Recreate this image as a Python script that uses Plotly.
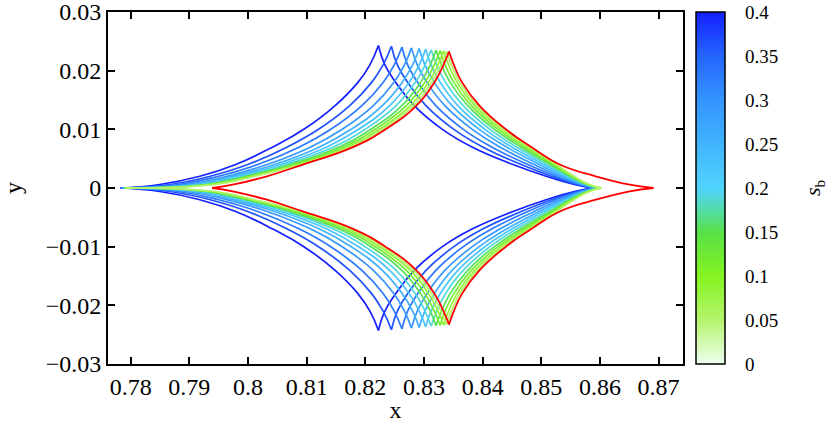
import plotly.graph_objects as go
from plotly.colors import sample_colorscale

# ---------------- data ----------------
S_B = [0.40, 0.365, 0.33, 0.295, 0.26, 0.225, 0.19, 0.155, 0.12, 0.085, 0.05]

# y levels at which the arcs' x positions were read
Y_LEVELS = [0.0006, 0.002, 0.004, 0.007, 0.010, 0.014, 0.018, 0.021]

LEFT_CUSP_X = [0.77824, 0.77835, 0.77845, 0.77855, 0.77865, 0.77875,
               0.77885, 0.77895, 0.77905, 0.77915, 0.77925]
TOP_X = [0.82224, 0.82445, 0.82625, 0.82787, 0.82918, 0.83029,
         0.83123, 0.83205, 0.83276, 0.83336, 0.83384]
TOP_Y = [0.02428, 0.02416, 0.02403, 0.02389, 0.02377, 0.02367,
         0.02358, 0.02350, 0.02343, 0.02338, 0.02333]
RIGHT_CUSP_X = [0.85884, 0.85911, 0.85934, 0.85955, 0.85972, 0.85985,
                0.85997, 0.86008, 0.86016, 0.86024, 0.86030]

LEFT_ARC_X = [
    [0.78495, 0.79178, 0.79790, 0.80423, 0.80952, 0.81481, 0.81874, 0.82078],
    [0.78670, 0.79353, 0.79995, 0.80671, 0.81202, 0.81730, 0.82108, 0.82304],
    [0.78816, 0.79498, 0.80167, 0.80877, 0.81411, 0.81938, 0.82304, 0.82492],
    [0.78953, 0.79635, 0.80327, 0.81070, 0.81606, 0.82132, 0.82486, 0.82668],
    [0.79060, 0.79742, 0.80453, 0.81221, 0.81759, 0.82285, 0.82629, 0.82806],
    [0.79148, 0.79830, 0.80555, 0.81345, 0.81884, 0.82410, 0.82746, 0.82919],
    [0.79226, 0.79910, 0.80647, 0.81455, 0.81995, 0.82521, 0.82851, 0.83019],
    [0.79294, 0.79978, 0.80727, 0.81551, 0.82093, 0.82618, 0.82942, 0.83107],
    [0.79348, 0.80028, 0.80789, 0.81627, 0.82169, 0.82694, 0.83013, 0.83176],
    [0.79396, 0.80076, 0.80846, 0.81696, 0.82239, 0.82763, 0.83078, 0.83239],
    [0.79435, 0.80115, 0.80892, 0.81751, 0.82294, 0.82818, 0.83130, 0.83289],
]
RIGHT_ARC_X = [
    [0.85560, 0.85082, 0.84519, 0.83819, 0.83314, 0.82838, 0.82520, 0.82334],
    [0.85609, 0.85171, 0.84658, 0.84001, 0.83509, 0.83038, 0.82723, 0.82546],
    [0.85649, 0.85245, 0.84772, 0.84152, 0.83671, 0.83205, 0.82893, 0.82722],
    [0.85687, 0.85315, 0.84880, 0.84294, 0.83823, 0.83360, 0.83051, 0.82886],
    [0.85716, 0.85369, 0.84964, 0.84405, 0.83942, 0.83482, 0.83175, 0.83016],
    [0.85740, 0.85414, 0.85033, 0.84496, 0.84039, 0.83582, 0.83277, 0.83121],
    [0.85762, 0.85453, 0.85095, 0.84577, 0.84126, 0.83671, 0.83368, 0.83215],
    [0.85781, 0.85488, 0.85149, 0.84647, 0.84201, 0.83749, 0.83447, 0.83298],
    [0.85796, 0.85516, 0.85191, 0.84703, 0.84261, 0.83810, 0.83509, 0.83362],
    [0.85809, 0.85540, 0.85230, 0.84753, 0.84315, 0.83866, 0.83565, 0.83421],
    [0.85820, 0.85560, 0.85260, 0.84794, 0.84358, 0.83910, 0.83610, 0.83468],
]

# reference (red) curve
RED_LEFT_CUSP_X = 0.79387
RED_TOP_X = 0.83427
RED_TOP_Y = 0.02326
RED_RIGHT_CUSP_X = 0.86913
RED_LEFT_ARC_X = [0.79760, 0.80321, 0.80935, 0.81799, 0.82343, 0.82867, 0.83176, 0.83333]
RED_RIGHT_ARC_X = [0.86485, 0.85928, 0.85314, 0.84829, 0.84396, 0.83949, 0.83650, 0.83509]

X_TICKS = [0.78, 0.79, 0.80, 0.81, 0.82, 0.83, 0.84, 0.85, 0.86, 0.87]
X_TICK_TEXT = ["0.78", "0.79", "0.8", "0.81", "0.82", "0.83", "0.84", "0.85", "0.86", "0.87"]
Y_TICKS = [-0.03, -0.02, -0.01, 0.0, 0.01, 0.02, 0.03]
Y_TICK_TEXT = ["\u22120.03", "\u22120.02", "\u22120.01", "0", "0.01", "0.02", "0.03"]
CB_TICKS = [0, 0.05, 0.1, 0.15, 0.2, 0.25, 0.3, 0.35, 0.4]
CB_TICK_TEXT = ["0", "0.05", "0.1", "0.15", "0.2", "0.25", "0.3", "0.35", "0.4"]

COLORSCALE = [
    [0.0, "#eefff0"],
    [0.125, "#b4f46c"],
    [0.25, "#84f420"],
    [0.375, "#58e048"],
    [0.4375, "#52dca8"],
    [0.5, "#50d4ff"],
    [0.625, "#40b4ff"],
    [0.75, "#3494ff"],
    [0.875, "#2466ff"],
    [1.0, "#1420ff"],
]
S_MIN, S_MAX = 0.0, 0.4

FONT = "Liberation Serif"

# layout geometry (pixels)
W, H = 831, 423
ML, MR, MT, MB = 108, 148, 12, 59
PW = W - ML - MR
CB_LEFT_PX = 696
CB_THICK = 29


def build_path(lcx, tx, ty, rcx, lx, rx):
    ys = list(Y_LEVELS)
    xs_all, ys_all = [], []
    xs_all += [lcx] + list(lx) + [tx] + [None]
    ys_all += [0.0] + ys + [ty] + [None]
    xs_all += [tx] + list(rx)[::-1] + [rcx] + [None]
    ys_all += [ty] + ys[::-1] + [0.0] + [None]
    xs_all += [rcx] + list(rx) + [tx] + [None]
    ys_all += [0.0] + [-v for v in ys] + [-ty] + [None]
    xs_all += [tx] + list(lx)[::-1] + [lcx]
    ys_all += [-ty] + [-v for v in ys[::-1]] + [0.0]
    return xs_all, ys_all


fig = go.Figure()

colors = sample_colorscale(COLORSCALE, [(s - S_MIN) / (S_MAX - S_MIN) for s in S_B])
for i, s in enumerate(S_B):
    xs, ys = build_path(LEFT_CUSP_X[i], TOP_X[i], TOP_Y[i], RIGHT_CUSP_X[i],
                        LEFT_ARC_X[i], RIGHT_ARC_X[i])
    fig.add_trace(go.Scatter(
        x=xs, y=ys, mode="lines",
        line=dict(color=colors[i], width=1.7, shape="spline", smoothing=1.3),
        connectgaps=False, showlegend=False, hoverinfo="skip"))

xs, ys = build_path(RED_LEFT_CUSP_X, RED_TOP_X, RED_TOP_Y, RED_RIGHT_CUSP_X,
                    RED_LEFT_ARC_X, RED_RIGHT_ARC_X)
fig.add_trace(go.Scatter(
    x=xs, y=ys, mode="lines",
    line=dict(color="#ff0000", width=1.8, shape="spline", smoothing=1.3),
    connectgaps=False, showlegend=False, hoverinfo="skip"))

cb_x = (CB_LEFT_PX - ML) / PW
fig.add_trace(go.Scatter(
    x=[None], y=[None], mode="markers", showlegend=False, hoverinfo="skip",
    marker=dict(
        color=[S_MIN], cmin=S_MIN, cmax=S_MAX, colorscale=COLORSCALE, showscale=True,
        colorbar=dict(
            x=cb_x, xanchor="left", xpad=0, y=0.5, yanchor="middle", ypad=0,
            len=1.0, lenmode="fraction", thickness=CB_THICK, thicknessmode="pixels",
            outlinecolor="black", outlinewidth=1.5,
            tickmode="array", tickvals=CB_TICKS, ticktext=CB_TICK_TEXT,
            ticks="outside", ticklen=16, tickcolor="rgba(0,0,0,0)", tickwidth=1,
            ticklabeloverflow="allow",
            tickfont=dict(family=FONT, size=19, color="black"),
        ),
    ),
))

# short inward ticks on both edges of the colour bar
cb_shapes = []
cb_x_right = cb_x + CB_THICK / PW
for v in CB_TICKS[1:-1]:
    yy = (v - S_MIN) / (S_MAX - S_MIN)
    cb_shapes.append(dict(
        type="line", xref="paper", yref="paper",
        x0=cb_x, x1=cb_x + 6 / PW, y0=yy, y1=yy,
        line=dict(color="black", width=1.5)))
    cb_shapes.append(dict(
        type="line", xref="paper", yref="paper",
        x0=cb_x_right - 6 / PW, x1=cb_x_right, y0=yy, y1=yy,
        line=dict(color="black", width=1.5)))

fig.update_layout(
    width=W, height=H,
    margin=dict(l=ML, r=MR, t=MT, b=MB, autoexpand=False),
    paper_bgcolor="white", plot_bgcolor="white",
    font=dict(family=FONT, size=24, color="black"),
    shapes=cb_shapes,
    annotations=[dict(
        x=(814 - ML) / PW, y=0.5, xref="paper", yref="paper",
        text="<i>s</i><sub>b</sub>", showarrow=False, textangle=-90,
        xanchor="center", yanchor="middle",
        font=dict(family=FONT, size=22, color="black"))],
)

fig.update_xaxes(
    range=[0.77613, 0.87416], tickmode="array", tickvals=X_TICKS, ticktext=X_TICK_TEXT,
    ticks="inside", ticklen=7, tickwidth=1.5, tickcolor="black",
    showline=True, linecolor="black", linewidth=2, mirror="ticks",
    showgrid=False, zeroline=False, automargin=False, ticklabeloverflow="allow",
    tickfont=dict(family=FONT, size=24),
    title=dict(text="x", standoff=2, font=dict(family=FONT, size=24)),
)
fig.update_yaxes(
    range=[-0.03, 0.03], tickmode="array", tickvals=Y_TICKS, ticktext=Y_TICK_TEXT,
    ticks="inside", ticklen=7, tickwidth=1.5, tickcolor="black",
    showline=True, linecolor="black", linewidth=2, mirror="ticks",
    showgrid=False, zeroline=False, automargin=False, ticklabeloverflow="allow",
    tickfont=dict(family=FONT, size=24),
    title=dict(text="y", standoff=20, font=dict(family=FONT, size=24)),
)

fig.write_html(
    "out.html",
    config={"displayModeBar": False},
    post_script="document.body.style.margin='0';document.body.style.padding='0';",
)
